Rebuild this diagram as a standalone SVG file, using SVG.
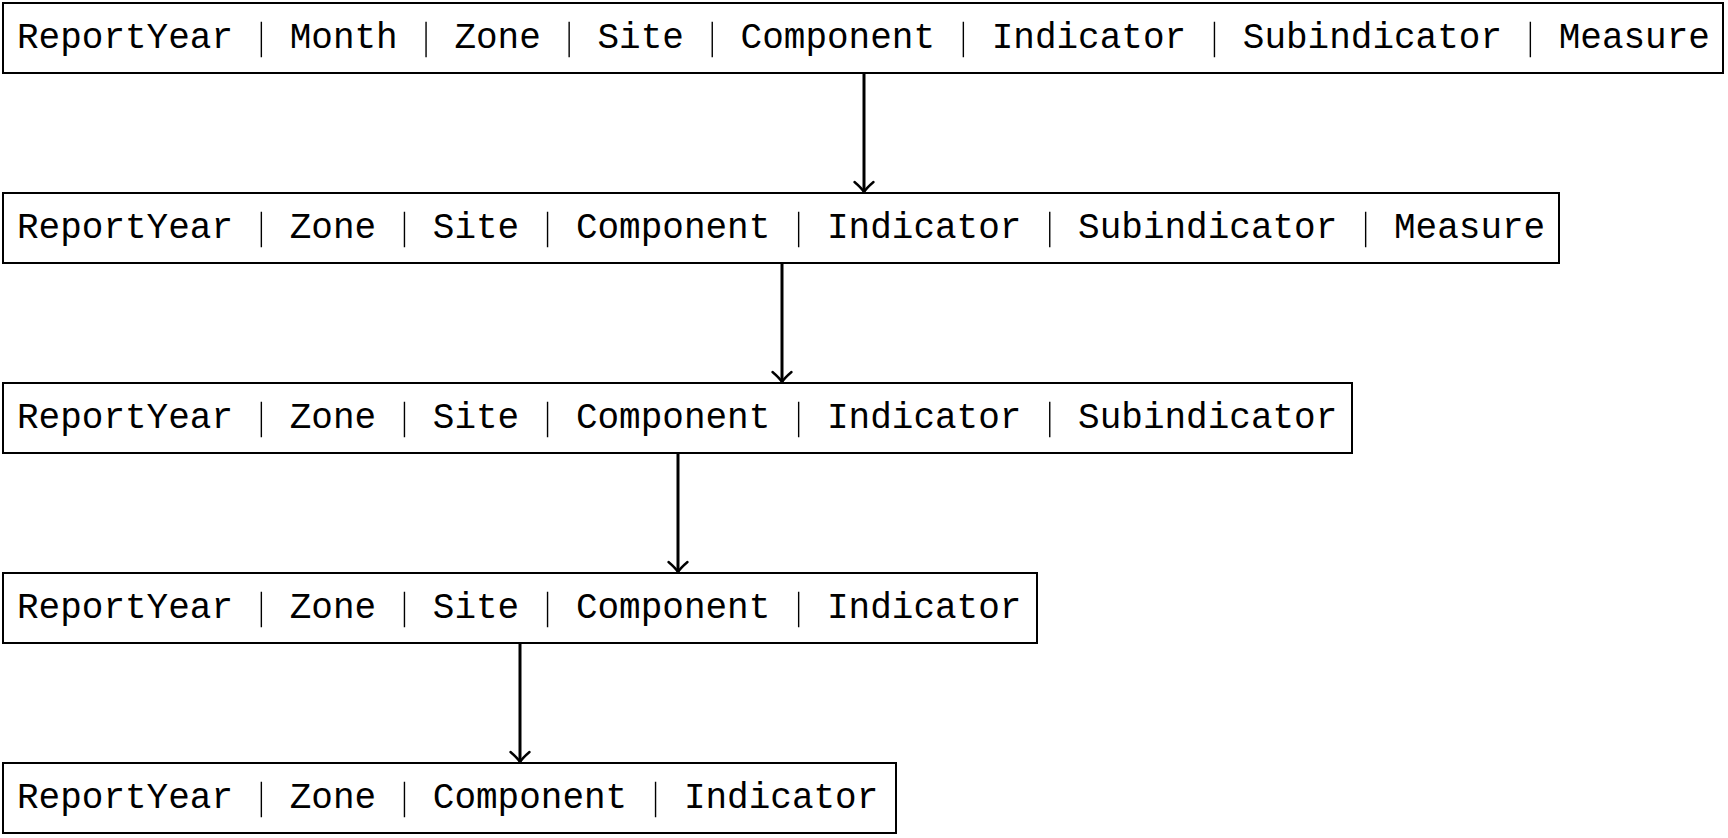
<svg xmlns="http://www.w3.org/2000/svg" width="1728" height="838" viewBox="0 0 1728 838">
<style>
.box{fill:#fff;stroke:#000;stroke-width:2}
.t{font-family:"Liberation Mono","DejaVu Sans Mono",monospace;font-size:37px;fill:#000}
.sep{stroke:#000;stroke-width:1.4}
.conn{stroke:#000;stroke-width:3;fill:none}
.head{stroke:#000;stroke-width:2.4;fill:none;stroke-linecap:round}
</style>
<defs>
<marker id="arr" markerUnits="userSpaceOnUse" markerWidth="24" markerHeight="24" viewBox="-12 -12 24 24" refX="0" refY="0" orient="auto" overflow="visible">
<path class="head" d="M -10,-9.5 Q -4,-2.5 0,0 Q -4,2.5 -10,9.5"/>
</marker>
</defs>
<rect width="1728" height="838" fill="#fff"/>
<g id="connectors">
<line class="conn" x1="864" y1="73" x2="864" y2="192" marker-end="url(#arr)"/>
<line class="conn" x1="782" y1="263" x2="782" y2="382" marker-end="url(#arr)"/>
<line class="conn" x1="678" y1="453" x2="678" y2="572" marker-end="url(#arr)"/>
<line class="conn" x1="520" y1="643" x2="520" y2="762" marker-end="url(#arr)"/>
</g>
<g id="node1">
<rect class="box" x="3" y="3" width="1720" height="70"/>
<text class="t" x="17" y="47.7" textLength="216" lengthAdjust="spacingAndGlyphs">ReportYear</text>
<text class="t" x="289.7" y="47.7" textLength="108" lengthAdjust="spacingAndGlyphs">Month</text>
<text class="t" x="454.4" y="47.7" textLength="86.4" lengthAdjust="spacingAndGlyphs">Zone</text>
<text class="t" x="597.5" y="47.7" textLength="86.4" lengthAdjust="spacingAndGlyphs">Site</text>
<text class="t" x="740.6" y="47.7" textLength="194.4" lengthAdjust="spacingAndGlyphs">Component</text>
<text class="t" x="991.7" y="47.7" textLength="194.4" lengthAdjust="spacingAndGlyphs">Indicator</text>
<text class="t" x="1242.8" y="47.7" textLength="259.2" lengthAdjust="spacingAndGlyphs">Subindicator</text>
<text class="t" x="1558.7" y="47.7" textLength="151.2" lengthAdjust="spacingAndGlyphs">Measure</text>
<path class="sep" d="M261.35,21.7V57.3M426.05,21.7V57.3M569.15,21.7V57.3M712.25,21.7V57.3M963.35,21.7V57.3M1214.45,21.7V57.3M1530.35,21.7V57.3"/>
</g>
<g id="node2">
<rect class="box" x="3" y="193" width="1556" height="70"/>
<text class="t" x="17" y="237.7" textLength="216" lengthAdjust="spacingAndGlyphs">ReportYear</text>
<text class="t" x="289.7" y="237.7" textLength="86.4" lengthAdjust="spacingAndGlyphs">Zone</text>
<text class="t" x="432.8" y="237.7" textLength="86.4" lengthAdjust="spacingAndGlyphs">Site</text>
<text class="t" x="575.9" y="237.7" textLength="194.4" lengthAdjust="spacingAndGlyphs">Component</text>
<text class="t" x="827" y="237.7" textLength="194.4" lengthAdjust="spacingAndGlyphs">Indicator</text>
<text class="t" x="1078.1" y="237.7" textLength="259.2" lengthAdjust="spacingAndGlyphs">Subindicator</text>
<text class="t" x="1394" y="237.7" textLength="151.2" lengthAdjust="spacingAndGlyphs">Measure</text>
<path class="sep" d="M261.35,211.7V247.3M404.45,211.7V247.3M547.55,211.7V247.3M798.65,211.7V247.3M1049.75,211.7V247.3M1365.65,211.7V247.3"/>
</g>
<g id="node3">
<rect class="box" x="3" y="383" width="1349" height="70"/>
<text class="t" x="17" y="427.7" textLength="216" lengthAdjust="spacingAndGlyphs">ReportYear</text>
<text class="t" x="289.7" y="427.7" textLength="86.4" lengthAdjust="spacingAndGlyphs">Zone</text>
<text class="t" x="432.8" y="427.7" textLength="86.4" lengthAdjust="spacingAndGlyphs">Site</text>
<text class="t" x="575.9" y="427.7" textLength="194.4" lengthAdjust="spacingAndGlyphs">Component</text>
<text class="t" x="827" y="427.7" textLength="194.4" lengthAdjust="spacingAndGlyphs">Indicator</text>
<text class="t" x="1078.1" y="427.7" textLength="259.2" lengthAdjust="spacingAndGlyphs">Subindicator</text>
<path class="sep" d="M261.35,401.7V437.3M404.45,401.7V437.3M547.55,401.7V437.3M798.65,401.7V437.3M1049.75,401.7V437.3"/>
</g>
<g id="node4">
<rect class="box" x="3" y="573" width="1034" height="70"/>
<text class="t" x="17" y="617.7" textLength="216" lengthAdjust="spacingAndGlyphs">ReportYear</text>
<text class="t" x="289.7" y="617.7" textLength="86.4" lengthAdjust="spacingAndGlyphs">Zone</text>
<text class="t" x="432.8" y="617.7" textLength="86.4" lengthAdjust="spacingAndGlyphs">Site</text>
<text class="t" x="575.9" y="617.7" textLength="194.4" lengthAdjust="spacingAndGlyphs">Component</text>
<text class="t" x="827" y="617.7" textLength="194.4" lengthAdjust="spacingAndGlyphs">Indicator</text>
<path class="sep" d="M261.35,591.7V627.3M404.45,591.7V627.3M547.55,591.7V627.3M798.65,591.7V627.3"/>
</g>
<g id="node5">
<rect class="box" x="3" y="763" width="893" height="70"/>
<text class="t" x="17" y="807.7" textLength="216" lengthAdjust="spacingAndGlyphs">ReportYear</text>
<text class="t" x="289.7" y="807.7" textLength="86.4" lengthAdjust="spacingAndGlyphs">Zone</text>
<text class="t" x="432.8" y="807.7" textLength="194.4" lengthAdjust="spacingAndGlyphs">Component</text>
<text class="t" x="683.9" y="807.7" textLength="194.4" lengthAdjust="spacingAndGlyphs">Indicator</text>
<path class="sep" d="M261.35,781.7V817.3M404.45,781.7V817.3M655.55,781.7V817.3"/>
</g>
</svg>
